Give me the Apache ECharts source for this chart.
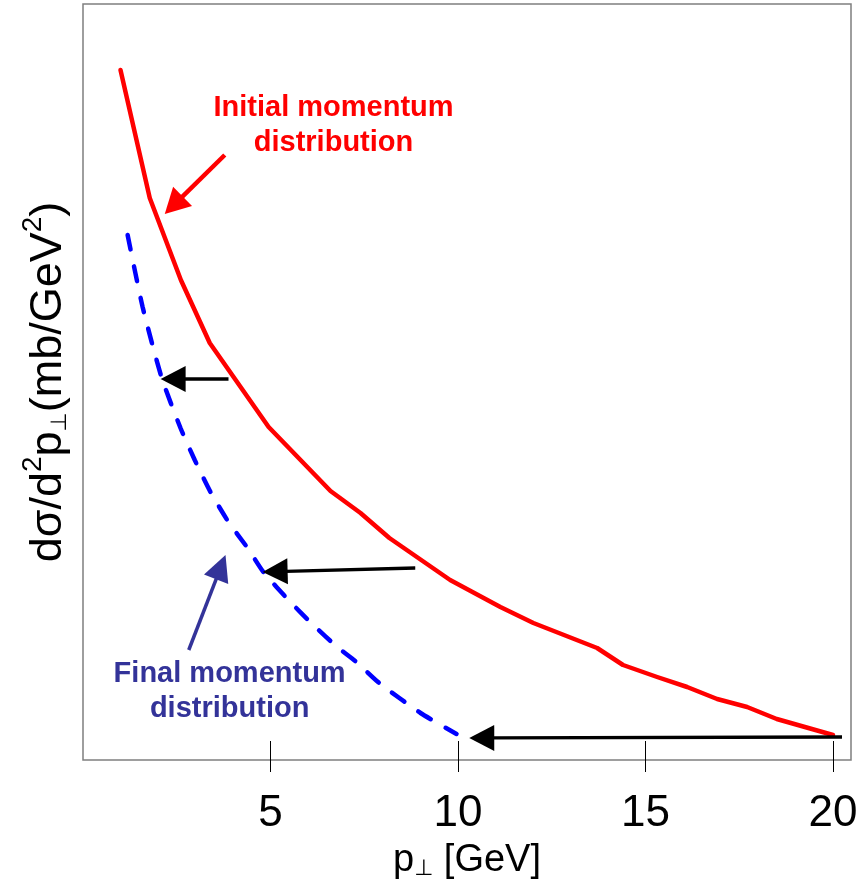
<!DOCTYPE html>
<html>
<head>
<meta charset="utf-8">
<script src="https://cdn.jsdelivr.net/npm/echarts@6/dist/echarts.min.js"></script>
<style>
html,body{margin:0;padding:0;background:#fff;}
#chart{width:867px;height:883px;}
</style>
</head>
<body>
<div id="chart"></div>
<script>
// p_perp values (GeV) and cross-section (arbitrary units) of the initial distribution (red)
const initialX = [1.00, 1.78, 2.61, 3.38, 4.95, 6.60, 7.40, 8.17, 9.79, 11.13, 12.01, 13.71, 14.40, 15.31, 16.11, 16.91, 17.71, 18.50, 20.00];
const initialY = [690, 562, 480, 417, 333, 269, 247, 222, 180, 153, 137, 112, 95, 83, 73, 61, 53, 41, 25];
// final distribution (blue dashed)
const finalX = [1.19, 1.59, 2.10, 2.60, 2.98, 3.40, 3.88, 4.39, 4.81, 5.53, 6.14, 6.78, 7.29, 7.90, 9.00, 9.96];
const finalY = [525, 453, 382, 332, 300, 268, 238, 212, 188, 158, 135, 113, 98, 77, 47, 26];
// tick labels
const xTicks = [5, 10, 15, 20];
// shift arrows: [fromX, fromY, toX, toY]
const shiftArrows = [[3.88, 381, 2.07, 381], [8.86, 192, 4.79, 188], [20.24, 23, 10.30, 22]];
const initialPointer = [[3.78, 605, 2.18, 546]];
const finalPointer = [[2.82, 110, 3.80, 205]];
const initialNote = ['Initial momentum', 'distribution'];
const finalNote = ['Final momentum', 'distribution'];

const zip = (a, b) => a.map((v, i) => [v, b[i]]);

function arrowRenderer(color, width, headLen, headW) {
  return function (params, api) {
    const p1 = api.coord([api.value(0), api.value(1)]);
    const p2 = api.coord([api.value(2), api.value(3)]);
    const dx = p2[0] - p1[0], dy = p2[1] - p1[1];
    const len = Math.sqrt(dx * dx + dy * dy);
    const ux = dx / len, uy = dy / len;
    const bx = p2[0] - ux * headLen, by = p2[1] - uy * headLen;
    const nx = -uy, ny = ux;
    return {
      type: 'group',
      children: [
        { type: 'line', shape: { x1: p1[0], y1: p1[1], x2: bx + ux * 2, y2: by + uy * 2 },
          style: { stroke: color, lineWidth: width } },
        { type: 'polygon', shape: { points: [[p2[0], p2[1]], [bx + nx * headW / 2, by + ny * headW / 2], [bx - nx * headW / 2, by - ny * headW / 2]] },
          style: { fill: color } }
      ]
    };
  };
}

function noteRenderer(lines, color) {
  return function (params, api) {
    const p = api.coord([api.value(0), api.value(1)]);
    return {
      type: 'text',
      x: p[0], y: p[1],
      style: {
        text: lines.join('\n'),
        fill: color,
        fontFamily: '"Liberation Sans", Arial, sans-serif',
        fontWeight: 'bold',
        fontSize: 29,
        lineHeight: 35,
        align: 'center',
        verticalAlign: 'middle'
      }
    };
  };
}

const gridRect = { left: 83, right: 16, top: 4, bottom: 123, outerBoundsMode: 'none', containLabel: false };

const chart = echarts.init(document.getElementById('chart'));
chart.setOption({
  animation: false,
  backgroundColor: '#ffffff',
  grid: [
    Object.assign({ show: true, borderColor: '#7f7f7f', borderWidth: 1.5, backgroundColor: 'transparent' }, gridRect),
    Object.assign({ show: false }, gridRect)
  ],
  xAxis: [
    {
      type: 'value', gridIndex: 0,
      min: 0, max: 20.48,
      axisLine: { show: false },
      splitLine: { show: false },
      axisTick: { show: true, inside: false, length: 12, customValues: xTicks, lineStyle: { color: '#000', width: 1 } },
      axisLabel: {
        customValues: xTicks, margin: 32,
        color: '#000', fontSize: 44,
        fontFamily: '"Liberation Sans", Arial, sans-serif'
      },
      name: '{p|p}{s|⊥}{p| [GeV]}',
      nameLocation: 'middle',
      nameGap: 82,
      nameTextStyle: {
        rich: {
          p: { fontSize: 38, color: '#000', fontFamily: '"Liberation Sans", Arial, sans-serif', verticalAlign: 'bottom' },
          s: { fontSize: 22, color: '#000', fontFamily: '"DejaVu Sans", sans-serif', verticalAlign: 'bottom' }
        }
      }
    },
    {
      type: 'value', gridIndex: 1,
      min: 0, max: 20.48,
      axisLine: { show: false },
      splitLine: { show: false },
      axisLabel: { show: false },
      axisTick: { show: true, inside: true, length: 19, customValues: xTicks, lineStyle: { color: '#000', width: 1 } }
    }
  ],
  yAxis: [
    {
      type: 'value', gridIndex: 0,
      min: 0, max: 756,
      axisLine: { show: false },
      axisTick: { show: false },
      axisLabel: { show: false },
      splitLine: { show: false },
      name: '{t|dσ/d}{u|2}{t|p}{s|⊥}{t|(mb/GeV}{u|2}{t|)}',
      nameLocation: 'middle',
      nameRotate: 90,
      nameGap: 12,
      nameTextStyle: {
        rich: {
          t: { fontSize: 45, color: '#000', fontFamily: '"Liberation Sans", Arial, sans-serif', lineHeight: 52, verticalAlign: 'bottom' },
          u: { fontSize: 28, color: '#000', fontFamily: '"Liberation Sans", Arial, sans-serif', verticalAlign: 'top' },
          s: { fontSize: 22, color: '#000', fontFamily: '"DejaVu Sans", sans-serif', verticalAlign: 'bottom' }
        }
      }
    },
    {
      type: 'value', gridIndex: 1, min: 0, max: 756, show: false
    }
  ],
  series: [
    {
      type: 'line', name: 'Initial', data: zip(initialX, initialY),
      showSymbol: false, smooth: false,
      lineStyle: { color: '#ff0000', width: 4.5, cap: 'round', join: 'round' }
    },
    {
      type: 'line', name: 'Final', data: zip(finalX, finalY),
      showSymbol: false, smooth: 0.2,
      lineStyle: { color: '#0000ff', width: 4.5, type: [15, 17], cap: 'round' }
    },
    { type: 'custom', data: shiftArrows, renderItem: arrowRenderer('#000000', 3.3, 25, 26), z: 5 },
    { type: 'custom', data: initialPointer, renderItem: arrowRenderer('#ff0000', 4.5, 25, 27), z: 5 },
    { type: 'custom', data: finalPointer, renderItem: arrowRenderer('#333399', 3.5, 26, 26), z: 5 },
    { type: 'custom', data: [[6.68, 634.5]], renderItem: noteRenderer(initialNote, '#ff0000'), z: 6 },
    { type: 'custom', data: [[3.91, 68.5]], renderItem: noteRenderer(finalNote, '#333399'), z: 6 }
  ]
});
</script>
</body>
</html>
